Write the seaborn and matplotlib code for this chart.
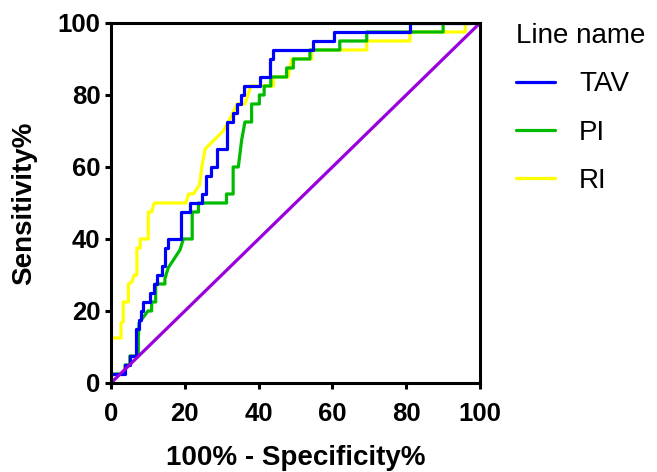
import numpy as np
import pandas as pd
import matplotlib
matplotlib.use('Agg')
import matplotlib.pyplot as plt
import seaborn as sns

# ============================================================================
# DATA (ROC curve vertices, in %)
# ============================================================================

LINE_NAMES = ['TAV', 'PI', 'RI']
LINE_COLORS = {'TAV': '#0000ff', 'PI': '#00bb00', 'RI': '#ffff00'}

tav_x = [0, 0, 3.8, 3.8, 5.1, 5.1, 6.7, 6.7, 7.5, 7.5, 8, 8, 8.7, 8.7, 10.6, 10.6,
         11.7, 11.7, 12.4, 12.4, 13.7, 13.7, 14.6, 14.6, 15.5, 15.5, 19, 19, 21.4, 21.4,
         24.6, 24.6, 25.7, 25.7, 27, 27, 28.8, 28.8, 31.3, 31.3, 33, 33, 34.2, 34.2,
         35.2, 35.2, 36, 36, 40.5, 40.5, 43, 43, 44, 44, 54.7, 54.7, 60.4, 60.4, 81, 81, 100]
tav_y = [0, 2.5, 2.5, 5, 5, 7.5, 7.5, 15, 15, 17.5, 17.5, 20, 20, 22.5, 22.5, 25,
         25, 27.5, 27.5, 30, 30, 32.5, 32.5, 37.5, 37.5, 40, 40, 47.5, 47.5, 50,
         50, 52.5, 52.5, 57.5, 57.5, 60, 60, 65, 65, 72.5, 72.5, 75, 75, 77.5,
         77.5, 80, 80, 82.5, 82.5, 85, 85, 90, 90, 92.5, 92.5, 95, 95, 97.5, 97.5, 100, 100]

pi_x = [0, 0, 3.8, 3.8, 5.1, 5.1, 7.4, 7.4, 7.6, 10, 11, 11, 12.1, 12.1, 14.6, 14.6,
        15.5, 16.8, 18.7, 19.6, 22, 22, 23.7, 23.7, 31.3, 31.3, 33.1, 33.1, 34.5, 35.4,
        36.3, 38.1, 38.1, 40.2, 40.2, 41.5, 41.5, 43.3, 43.3, 47.6, 47.6, 49.4, 49.4,
        53.9, 53.9, 62, 62, 69.3, 69.3, 90, 90, 100]
pi_y = [0, 2.5, 2.5, 5, 5, 7.5, 7.5, 12.5, 16.7, 20, 20, 22.5, 22.5, 27.5, 27.5, 29,
        32, 34, 37, 40, 40, 47.5, 47.5, 50, 50, 52.5, 52.5, 60, 60, 67.5,
        72.5, 72.5, 77.5, 77.5, 80, 80, 82.5, 82.5, 85, 85, 87.5, 87.5, 90,
        90, 92.5, 92.5, 95, 95, 97.5, 97.5, 100, 100]

ri_x = [0, 0, 2.7, 2.7, 3.3, 3.3, 4.7, 4.7, 5.6, 6.3, 7, 7, 7.9, 7.9, 10.1, 10.1,
        11, 11.7, 20.3, 21, 22.3, 24, 24.6, 25.5, 30.4, 31.8, 33, 34.2, 36.3, 37.9,
        44, 44, 48, 48.5, 49, 54.4, 54.4, 69.3, 69.3, 81, 81, 96, 96, 100]
ri_y = [0, 12.5, 12.5, 16.7, 17, 22.5, 22.5, 27.5, 28, 30, 30, 37.5, 37.5, 40, 40, 47.5,
        47.5, 50, 50, 52.5, 52.5, 55, 60, 65, 70, 72.5, 75, 77.5, 77.5, 82.5,
        82.5, 85, 85, 87.5, 90, 90, 92.5, 92.5, 95, 95, 97.5, 97.5, 100, 100]

ref_x = [0, 100]
ref_y = [0, 100]

# ============================================================================
# PLOT
# ============================================================================

sns.set_style('white')
plt.rcParams['font.family'] = ['Liberation Sans', 'DejaVu Sans']
plt.rcParams['text.color'] = 'black'
plt.rcParams['axes.labelcolor'] = 'black'
plt.rcParams['xtick.color'] = 'black'
plt.rcParams['ytick.color'] = 'black'

frames = []
for name, xs, ys in [('TAV', tav_x, tav_y), ('PI', pi_x, pi_y), ('RI', ri_x, ri_y)]:
    frames.append(pd.DataFrame({'fpr': xs, 'tpr': ys, 'line': name,
                                'order': np.arange(len(xs))}))
df = pd.concat(frames, ignore_index=True)

fig = plt.figure(figsize=(6.57, 4.72), dpi=100)
ax = fig.add_axes([0.169, 0.1886, 0.5616, 0.7627])

# draw yellow first, then green, then blue on top
for name in ['RI', 'PI', 'TAV']:
    sub = df[df['line'] == name]
    sns.lineplot(data=sub, x='fpr', y='tpr', sort=False, estimator=None,
                 color=LINE_COLORS[name], linewidth=2.3, ax=ax, label=name)
sns.lineplot(x=ref_x, y=ref_y, color='#9900dd', linewidth=2.3, ax=ax,
             sort=False, estimator=None)

ax.set_xlim(0, 100)
ax.set_ylim(0, 100)
ax.set_xticks([0, 20, 40, 60, 80, 100])
ax.set_yticks([0, 20, 40, 60, 80, 100])
ax.margins(0)

for s in ax.spines.values():
    s.set_linewidth(2.2)
    s.set_color('black')
ax.tick_params(axis='both', direction='out', length=4.5, width=2.2,
               labelsize=18.5, color='black', labelcolor='black',
               bottom=True, left=True)
ax.tick_params(axis='x', pad=9)
ax.tick_params(axis='y', pad=3)
for lab in ax.get_xticklabels() + ax.get_yticklabels():
    lab.set_fontweight('bold')

ax.set_xlabel('100% - Specificity%', fontsize=20, fontweight='bold', labelpad=14,
              color='black')
ax.set_ylabel('Sensitivity%', fontsize=20, fontweight='bold', labelpad=15,
              color='black')

handles, labels = ax.get_legend_handles_labels()
order = [labels.index(n) for n in LINE_NAMES]
leg = ax.legend([handles[i] for i in order], [labels[i] for i in order],
                title='Line name', loc='upper left', bbox_to_anchor=(0.748, 1.004),
                bbox_transform=fig.transFigure, frameon=False, fontsize=20,
                title_fontsize=20, handlelength=1.4, handletextpad=0.85,
                labelspacing=0.8, alignment='left')
for line in leg.get_lines():
    line.set_linewidth(2.3)
for t in leg.get_texts() + [leg.get_title()]:
    t.set_color('black')

fig.savefig('out.png', dpi=100)
